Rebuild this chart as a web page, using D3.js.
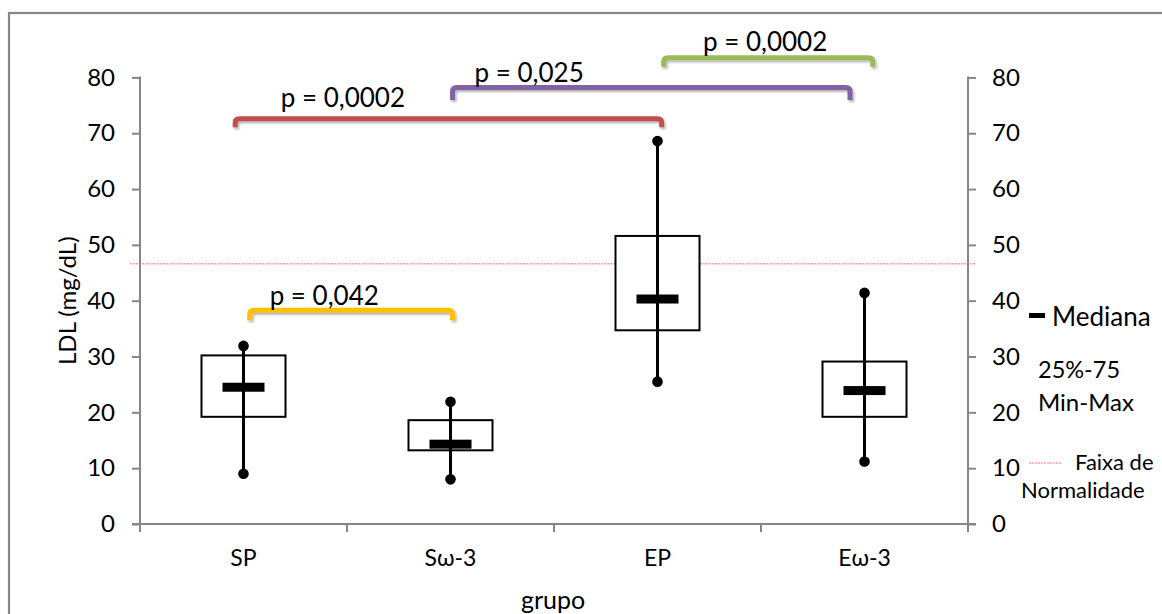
<!DOCTYPE html>
<html>
<head>
<meta charset="utf-8">
<script src="https://cdn.jsdelivr.net/npm/d3@7"></script>
<style>
  html, body { margin: 0; padding: 0; background: #fff; }
  svg { display: block; font-family: Lato, "Open Sans", sans-serif; }
</style>
</head>
<body>
<svg id="chart" width="1162" height="614"></svg>
<script>
// ---- data ----
const categories = ["SP", "Sω-3", "EP", "Eω-3"];
const minVals    = [9.0, 8.0, 25.5, 11.2];
const q1Vals     = [19.2, 13.2, 34.7, 19.2];
const medianVals = [24.5, 14.3, 40.3, 23.9];
const q3Vals     = [30.2, 18.6, 51.6, 29.1];
const maxVals    = [31.9, 21.9, 68.6, 41.4];
const yTicks     = [0, 10, 20, 30, 40, 50, 60, 70, 80];
const normalLimit = 46.6;

// significance brackets (positions in category-index units, level in mg/dL)
const pLabels = ["p = 0,0002", "p = 0,025", "p = 0,0002", "p = 0,042"];
const pFrom   = [-0.04, 1.01, 2.03, 0.03];
const pTo     = [2.02, 2.93, 3.04, 1.01];
const pLevel  = [72.6, 78.2, 83.5, 38.3];
const pLabelAt = [0.48, 1.38, 2.52, 0.39];
const pColors = ["#C0504D", "#8064A2", "#9BBB59", "#FFC000"];

const legendLabels = ["Mediana", "25%-75", "Min-Max", "Faixa de", "Normalidade"];

// ---- layout ----
const svg = d3.select("#chart");
const pLeft = 140, pRight = 968, pTop = 77.4, pBottom = 524;
const axisColor = "#868686";

const x = d3.scaleBand().domain(categories).range([pLeft, pRight]).padding(0);
const xi = d3.scaleLinear().domain([-0.5, categories.length - 0.5]).range([pLeft, pRight]);
const y = d3.scaleLinear().domain([0, 80]).range([pBottom, pTop]);

// outer border
svg.append("rect").attr("x", 9).attr("y", 13).attr("width", 1170).attr("height", 620)
  .attr("fill", "none").attr("stroke", "#878787").attr("stroke-width", 2.2);

// shadow filter
const defs = svg.append("defs");
const f = defs.append("filter").attr("id", "shadow").attr("x", "-5%").attr("y", "-50%").attr("width", "110%").attr("height", "200%");
f.append("feDropShadow").attr("dx", 1.5).attr("dy", 2).attr("stdDeviation", 1.2)
  .attr("flood-color", "#000").attr("flood-opacity", 0.3);

// normal range line
svg.append("line")
  .attr("x1", pLeft - 10).attr("x2", pRight + 7)
  .attr("y1", y(normalLimit)).attr("y2", y(normalLimit))
  .attr("stroke", "#FF7070").attr("stroke-width", 1).attr("stroke-dasharray", "2,1");

// left axis
const yAxisL = d3.axisLeft(y).tickValues(yTicks).tickSize(8).tickPadding(17);
const gL = svg.append("g").attr("transform", `translate(${pLeft},0)`).call(yAxisL);
// right axis
const yAxisR = d3.axisRight(y).tickValues(yTicks).tickSize(8).tickPadding(16);
const gR = svg.append("g").attr("transform", `translate(${pRight},0)`).call(yAxisR);
[gL, gR].forEach(g => {
  g.select(".domain").attr("d", `M0,${pTop - 1}V${pBottom + 8}`).attr("stroke", axisColor).attr("stroke-width", 2);
  g.selectAll(".tick line").attr("stroke", axisColor).attr("stroke-width", 2);
  g.selectAll(".tick text").attr("fill", "#000").style("font-size", "24px").style("font-family", "Lato, 'Open Sans', sans-serif");
});

// bottom axis
const xAxis = d3.axisBottom(x).tickSize(0).tickPadding(26);
const gX = svg.append("g").attr("transform", `translate(0,${pBottom})`).call(xAxis);
gX.select(".domain").attr("d", `M${pLeft - 8},0H${pRight + 8}`).attr("stroke", axisColor).attr("stroke-width", 2);
gX.selectAll(".tick text").attr("fill", "#000").style("font-size", "23px").style("font-family", "Lato, 'Open Sans', sans-serif");
// category boundary ticks
gX.selectAll(".bound").data(d3.range(1, categories.length)).enter().append("line")
  .attr("x1", d => xi(d - 0.5)).attr("x2", d => xi(d - 0.5))
  .attr("y1", 0).attr("y2", 8).attr("stroke", axisColor).attr("stroke-width", 2);

// axis titles
svg.append("text").attr("transform", `translate(68,${(pTop + pBottom) / 2}) rotate(-90)`)
  .attr("text-anchor", "middle").attr("dy", "0.35em").style("font-size", "24px").text("LDL (mg/dL)");
svg.append("text").attr("x", (pLeft + pRight) / 2 - 1).attr("y", 600).attr("dy", "0.35em")
  .attr("text-anchor", "middle").style("font-size", "25px").text("grupo");

// boxes
const boxW = 84, medW = 42, medH = 9;
const groups = svg.append("g").selectAll("g").data(categories).enter().append("g")
  .attr("transform", d => `translate(${x(d) + x.bandwidth() / 2},0)`);

groups.append("rect")
  .attr("x", -boxW / 2).attr("width", boxW)
  .attr("y", (d, i) => y(q3Vals[i])).attr("height", (d, i) => y(q1Vals[i]) - y(q3Vals[i]))
  .attr("fill", "#fff").attr("stroke", "#000").attr("stroke-width", 2);
groups.append("line")
  .attr("x1", 0).attr("x2", 0)
  .attr("y1", (d, i) => y(maxVals[i])).attr("y2", (d, i) => y(minVals[i]))
  .attr("stroke", "#000").attr("stroke-width", 3);
groups.append("rect")
  .attr("x", -medW / 2).attr("width", medW)
  .attr("y", (d, i) => y(medianVals[i]) - medH / 2).attr("height", medH)
  .attr("fill", "#000");
groups.append("circle").attr("cx", 0).attr("cy", (d, i) => y(maxVals[i])).attr("r", 5.3).attr("fill", "#000");
groups.append("circle").attr("cx", 0).attr("cy", (d, i) => y(minVals[i])).attr("r", 5.3).attr("fill", "#000");

// brackets
const drops = [8.5, 12.5, 9, 10];
const labelOffsets = [21, 15, 16, 14];
pLabels.forEach((lab, i) => {
  const x1 = xi(pFrom[i]), x2 = xi(pTo[i]), yy = y(pLevel[i]), d = drops[i], r = 4;
  svg.append("path")
    .attr("d", `M${x1},${yy + d}V${yy + r}Q${x1},${yy} ${x1 + r},${yy}H${x2 - r}Q${x2},${yy} ${x2},${yy + r}V${yy + d}`)
    .attr("fill", "none").attr("stroke", pColors[i]).attr("stroke-width", 5)
    .attr("filter", "url(#shadow)");
  svg.append("text").attr("x", xi(pLabelAt[i])).attr("y", yy - labelOffsets[i]).attr("dy", "0.35em")
    .attr("text-anchor", "middle").style("font-size", "26px").text(lab);
});

// legend
const lg = svg.append("g");
lg.append("rect").attr("x", 1029).attr("y", 313).attr("width", 16).attr("height", 5).attr("fill", "#000");
lg.append("text").attr("x", 1052).attr("y", 317).attr("dy", "0.35em").style("font-size", "26px").text(legendLabels[0]);
lg.append("text").attr("x", 1038).attr("y", 370).attr("dy", "0.35em").style("font-size", "23.5px").text(legendLabels[1]);
lg.append("text").attr("x", 1038).attr("y", 403).attr("dy", "0.35em").style("font-size", "24px").text(legendLabels[2]);
lg.append("line").attr("x1", 1029).attr("x2", 1061).attr("y1", 463).attr("y2", 463)
  .attr("stroke", "#FF7070").attr("stroke-width", 1).attr("stroke-dasharray", "2,1");
lg.append("text").attr("x", 1075).attr("y", 462).attr("dy", "0.35em").style("font-size", "22px").text(legendLabels[3]);
lg.append("text").attr("x", 1021).attr("y", 490).attr("dy", "0.35em").style("font-size", "22px").text(legendLabels[4]);
</script>
</body>
</html>
